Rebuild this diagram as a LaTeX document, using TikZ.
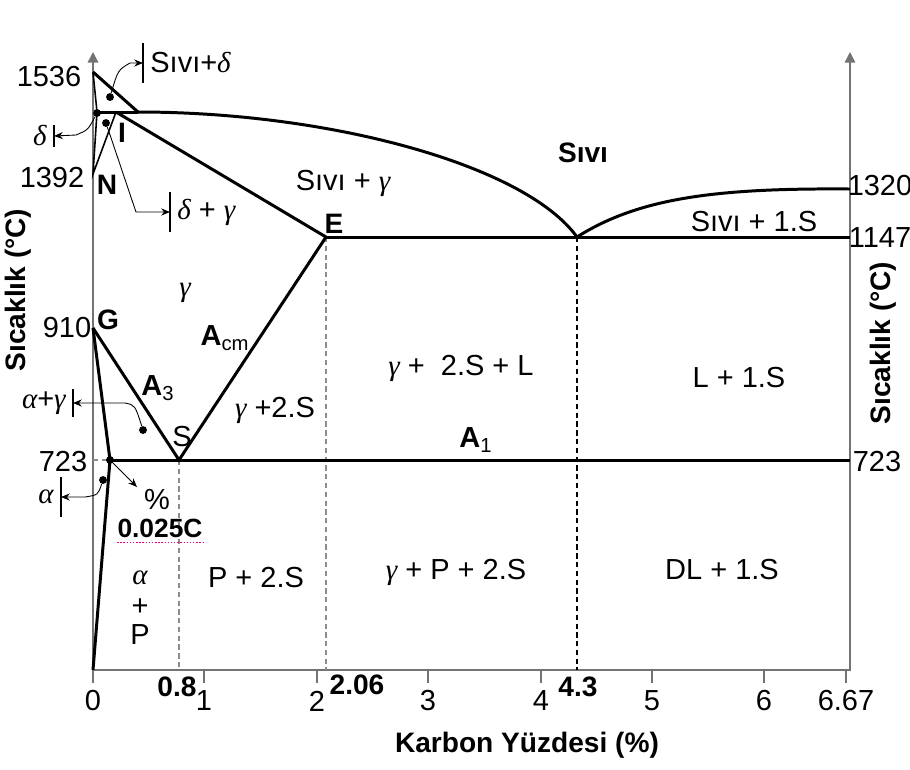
\documentclass[tikz,border=0pt]{standalone}
\usepackage{fontspec}
\setmainfont{Liberation Sans}
\newfontfamily\greekfont{Liberation Serif}
\newcommand{\gk}[1]{{\greekfont\itshape #1}}
\usepackage{tikz}
\usetikzlibrary{positioning}
\usetikzlibrary{arrows.meta}

\begin{document}
\begin{tikzpicture}[x=0.02cm, y=-0.02cm,
    font=\fontsize{16.5}{19}\selectfont,
    phase/.style={line width=1.7pt},
    branch/.style={line width=0.9pt},
    axisline/.style={line width=0.8pt, black!55},
    guide/.style={densely dashed, line width=0.6pt, black!45},
    pointer/.style={line width=0.5pt, -{Stealth[length=5pt, width=4pt]}},
    tag/.style={inner xsep=4pt, inner ysep=0pt},
    tagbar/.style={line width=0.8pt},
    spot/.style={circle, fill, inner sep=0pt, minimum size=4.5pt},
    ptlabel/.style={font=\fontsize{16}{19}\selectfont\bfseries}]

  \useasboundingbox (0,0) rectangle (910,769);

  % Key points of the diagram
  \coordinate (O) at (93,670);
  \coordinate (Ytop) at (93,52);
  \coordinate (R0) at (850,670);
  \coordinate (Rtop) at (850,52);
  \coordinate (A) at (93,72);
  \coordinate (H) at (97,112);
  \coordinate (J) at (116,112);
  \coordinate (B) at (138,112);
  \coordinate (N) at (93,174);
  \coordinate (E) at (326,237);
  \coordinate (C) at (577,237);
  \coordinate (F) at (850,237);
  \coordinate (D) at (850,189);
  \coordinate (G) at (93,328);
  \coordinate (P) at (110,460);
  \coordinate (S) at (179,460);
  \coordinate (K) at (850,460);
  \coordinate (tipP) at (137,487);

  % Axes
  \draw[axisline, -{Triangle[length=6pt, width=6pt]}] (O) -- (Ytop);
  \draw[axisline, -{Triangle[length=6pt, width=6pt]}] (O) -- (R0) -- (Rtop);

  % Ticks on the carbon axis
  \foreach \x/\t [count=\i] in {93/0,204/1,317/2,428/3,541/4,652/5,764/6,846/6.67}{
    \draw[axisline] (\x,670) -- (\x,683);
    \node (tick\i) at (\x,701) {\t};
  }

  % Guide lines
  \draw[guide] (S) -- (S |- O);
  \draw[guide] (E) -- (E |- O);
  \draw[guide, black] (C) -- (C |- O);
  \draw[guide] (P -| O) -- (P);

  % Phase boundaries
  \draw[branch] (A) -- (H) -- (N) -- (J);
  \draw[phase] (A) -- (B);
  \draw[phase] (H) -- (B);
  \draw[phase] (B) .. controls (330,112) and (525,165) .. (C);
  \draw[phase] (C) .. controls (640,197) and (720,188) .. (D);
  \draw[phase] (E) -- (F);
  \draw[phase] (J) -- (E);
  \draw[phase] (G) -- (S) -- (E);
  \draw[phase] (G) -- (P) -- (O);
  \draw[phase] (P) -- (K);

  % Temperatures
  \node (t1536) at (49,77) {1536};
  \node (t1392) at (52,178) {1392};
  \node (t910) at (67,328) {910};
  \node (t723) at (63,462) {723};
  \node (r1320) at (880,186) {1320};
  \node (r1147) at (880,238) {1147};
  \node (r723) at (877,462) {723};

  % Carbon values
  \node[ptlabel] (c08) at (177,687) {0.8};
  \node[ptlabel] (c206) at (357,685) {2.06};
  \node[ptlabel] (c43) at (578,687) {4.3};

  % Point letters
  \node[ptlabel] (lN) at (107,185) {N};
  \node[ptlabel] (lI) at (122,133) {I};
  \node[ptlabel] (lG) at (108,320) {G};
  \node[ptlabel] (lE) at (334,224) {E};
  \node (lS) at (182,437) {S};

  % Phase regions
  \node[ptlabel] (sivi) at (583,153) {Sıvı};
  \node (siviG) at (343,183) {Sıvı + \gk{γ}};
  \node (sivi1S) at (754,222) {Sıvı + 1.S};
  \node (gam) at (185,293) {\gk{γ}};
  \node (acm) at (225,338) {\textbf{A}\textsubscript{cm}};
  \node (a3) at (158,388) {\textbf{A}\textsubscript{3}};
  \node (g2s) at (275,410) {\gk{γ} +2.S};
  \node (g2sl) at (461,368) {\gk{γ} + \ 2.S + L};
  \node (l1s) at (739,378) {L + 1.S};
  \node (a1) at (476,440) {\textbf{A}\textsubscript{1}};
  \node (p2s) at (256,578) {P + 2.S};
  \node (gp2s) at (456,572) {\gk{γ} + P + 2.S};
  \node (dl1s) at (722,570) {DL + 1.S};
  \node (alf) at (140,578) {\gk{α}};
  \node (plus) at (140,607) {+};
  \node (perl) at (140,635) {P};

  % Small regions with pointers
  \node[spot] (sLd) at (110,97) {};
  \node[spot] (sD) at (97,113) {};
  \node[spot] (sDg) at (106,123) {};
  \node[spot] (sAg) at (143,430) {};
  \node[spot] (sA) at (103,480) {};
  \node[spot] (sP) at (110,460) {};

  \node[tag, anchor=west, minimum height=0.78cm] (lLd) at (143,63) {Sıvı+\gk{δ}};
  \draw[tagbar] (lLd.north west) -- (lLd.south west);
  \draw[pointer] (sLd) .. controls (118,70) .. (130,63) -- (lLd.west);

  \node[tag, anchor=east, minimum height=0.42cm] (lD) at (54,136) {\gk{δ}};
  \draw[tagbar] (lD.north east) -- (lD.south east);
  \draw[pointer] (sD) .. controls (88,130) .. (76,135) -- (lD.east);

  \node[tag, anchor=west, minimum height=0.78cm] (lDg) at (170,212) {\gk{δ} + \gk{γ}};
  \draw[tagbar] (lDg.north west) -- (lDg.south west);
  \draw[pointer] (sDg) -- (136,212) -- (lDg.west);

  \node[tag, anchor=east, minimum height=0.56cm] (lAg) at (73,403) {\gk{α}+\gk{γ}};
  \draw[tagbar] (lAg.north east) -- (lAg.south east);
  \draw[pointer] (sAg) .. controls (135,405) .. (125,403) -- (lAg.east);

  \node[tag, anchor=east, minimum height=0.78cm] (lA) at (61,497) {\gk{α}};
  \draw[tagbar] (lA.north east) -- (lA.south east);
  \draw[pointer] (sA) .. controls (98,495) .. (85,497) -- (lA.east);

  \draw[pointer] (sP) -- (tipP);
  \node (pct) at (157,500) {\%};
  \node[ptlabel, font=\fontsize{15}{18}\selectfont\bfseries, inner sep=0pt] (c0025) at (160,528) {0.025C};
  \draw[magenta, densely dotted, line width=0.8pt] ([yshift=-3pt]c0025.base west) -- ([yshift=-3pt]c0025.base east);

  % Axis titles
  \node[ptlabel] (xlab) at (527,745) {Karbon Yüzdesi (\%)};
  \node[ptlabel, rotate=90] (ylab) at (18,290) {Sıcaklık (°C)};
  \node[ptlabel, rotate=90] (ylab2) at (883,343) {Sıcaklık (°C)};
\end{tikzpicture}
\end{document}
